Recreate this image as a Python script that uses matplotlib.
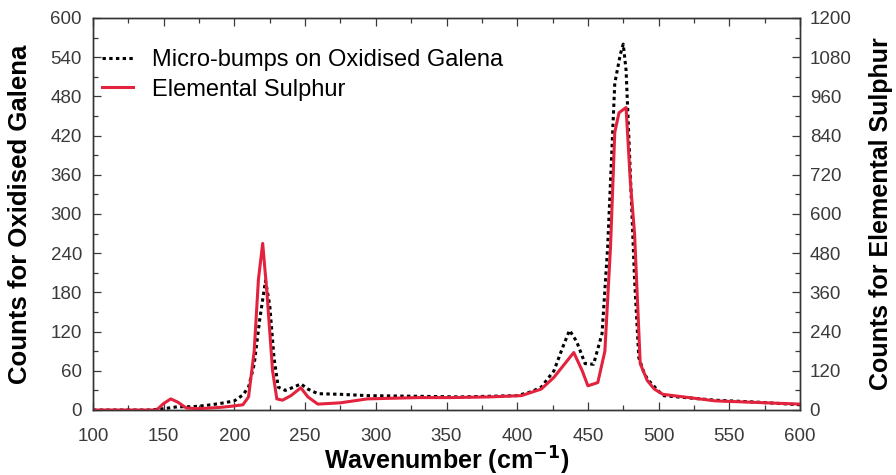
import matplotlib
matplotlib.use("Agg")
import matplotlib.pyplot as plt
from matplotlib.ticker import MultipleLocator

plt.rcParams['font.family'] = ['Liberation Sans', 'DejaVu Sans']

# Micro-bumps on Oxidised Galena (left axis)
gal_x = [100, 140, 150, 160, 170, 180, 190, 200, 206, 210, 214, 218, 222, 225, 228, 231, 236, 242,
         247, 252, 259, 275, 294, 330, 360, 400, 410, 417, 426, 432, 437, 442, 448, 454, 460, 464,
         469, 473, 475, 477, 480, 483, 486, 490, 493, 503, 540, 570, 600]
gal_y = [0, 0, 2, 5, 5, 7, 10, 14, 23, 35, 70, 140, 198, 160, 80, 35, 30, 35,
         40, 32, 25, 24, 22, 21, 20, 22, 28, 35, 60, 95, 122, 105, 71, 70, 117, 250,
         500, 545, 560, 520, 363, 200, 80, 55, 45, 22, 15, 12, 8]

# Elemental Sulphur (right axis)
sul_x = [100, 145, 150, 155, 160, 166, 175, 190, 199, 206, 210, 214, 217, 220, 223, 227, 230, 234,
         240, 247, 252, 259, 275, 294, 330, 353, 380, 403, 417, 426, 440, 446, 450, 457, 462, 466,
         469, 472, 477, 480, 483, 487, 492, 497, 503, 540, 600]
sul_y = [0, 0, 20, 34, 24, 6, 4, 8, 12, 16, 40, 180, 400, 510, 360, 120, 34, 30,
         44, 68, 40, 18, 22, 34, 38, 38, 40, 44, 64, 100, 176, 120, 74, 84, 180, 500,
         850, 910, 926, 700, 540, 142, 90, 64, 48, 28, 18]

fig = plt.figure(figsize=(8.96, 4.75), dpi=100)
# axes: x 93..800 px, y 18..410 px
ax = fig.add_axes([93/896, 65/475, 707/896, 392/475])
ax2 = ax.twinx()

l1, = ax.plot(gal_x, gal_y, color='black', linestyle=(0, (1.1, 1.1)), linewidth=2.2,
              label='Micro-bumps on Oxidised Galena')
l2, = ax2.plot(sul_x, sul_y, color='#e3233d', linewidth=2.2, label='Elemental Sulphur')

ax.set_xlim(100, 600)
ax.set_ylim(0, 600)
ax2.set_ylim(0, 1200)

ax.xaxis.set_major_locator(MultipleLocator(50))
ax.xaxis.set_minor_locator(MultipleLocator(25))
ax.yaxis.set_major_locator(MultipleLocator(60))
ax.yaxis.set_minor_locator(MultipleLocator(30))
ax2.yaxis.set_major_locator(MultipleLocator(120))
ax2.yaxis.set_minor_locator(MultipleLocator(60))

tick_col = '#3a3a3a'
ax.tick_params(axis='x', which='both', direction='in', top=True, labelsize=13.5,
               colors=tick_col, pad=13)
ax.tick_params(axis='y', which='both', direction='in', labelsize=13.5, colors=tick_col, pad=8)
ax2.tick_params(axis='y', which='both', direction='in', labelsize=13.5, colors=tick_col, pad=7)
for a in (ax, ax2):
    a.tick_params(which='major', length=6, width=0.9)
    a.tick_params(which='minor', length=3.5, width=0.9)
    for s in a.spines.values():
        s.set_color('#333333')
        s.set_linewidth(1.0)

ax.set_xlabel('Wavenumber (cm$^{\\mathbf{-1}}$)', fontsize=18, fontweight='bold')
ax.set_ylabel('Counts for Oxidised Galena', fontsize=18.5, fontweight='bold')
ax2.set_ylabel('Counts for Elemental Sulphur', fontsize=18, fontweight='bold')
ax.xaxis.set_label_coords(0.5, -0.088)
ax.yaxis.set_label_coords(-0.086, 0.5)
ax2.yaxis.set_label_coords(1.097, 0.5)

ax.legend(handles=[l1, l2], loc='upper left', frameon=False, fontsize=17,
          handlelength=1.3, handletextpad=0.8, borderaxespad=0.0, borderpad=0.4,
          labelspacing=0.32, bbox_to_anchor=(0.0, 0.945))

fig.savefig('out.png', dpi=100)
